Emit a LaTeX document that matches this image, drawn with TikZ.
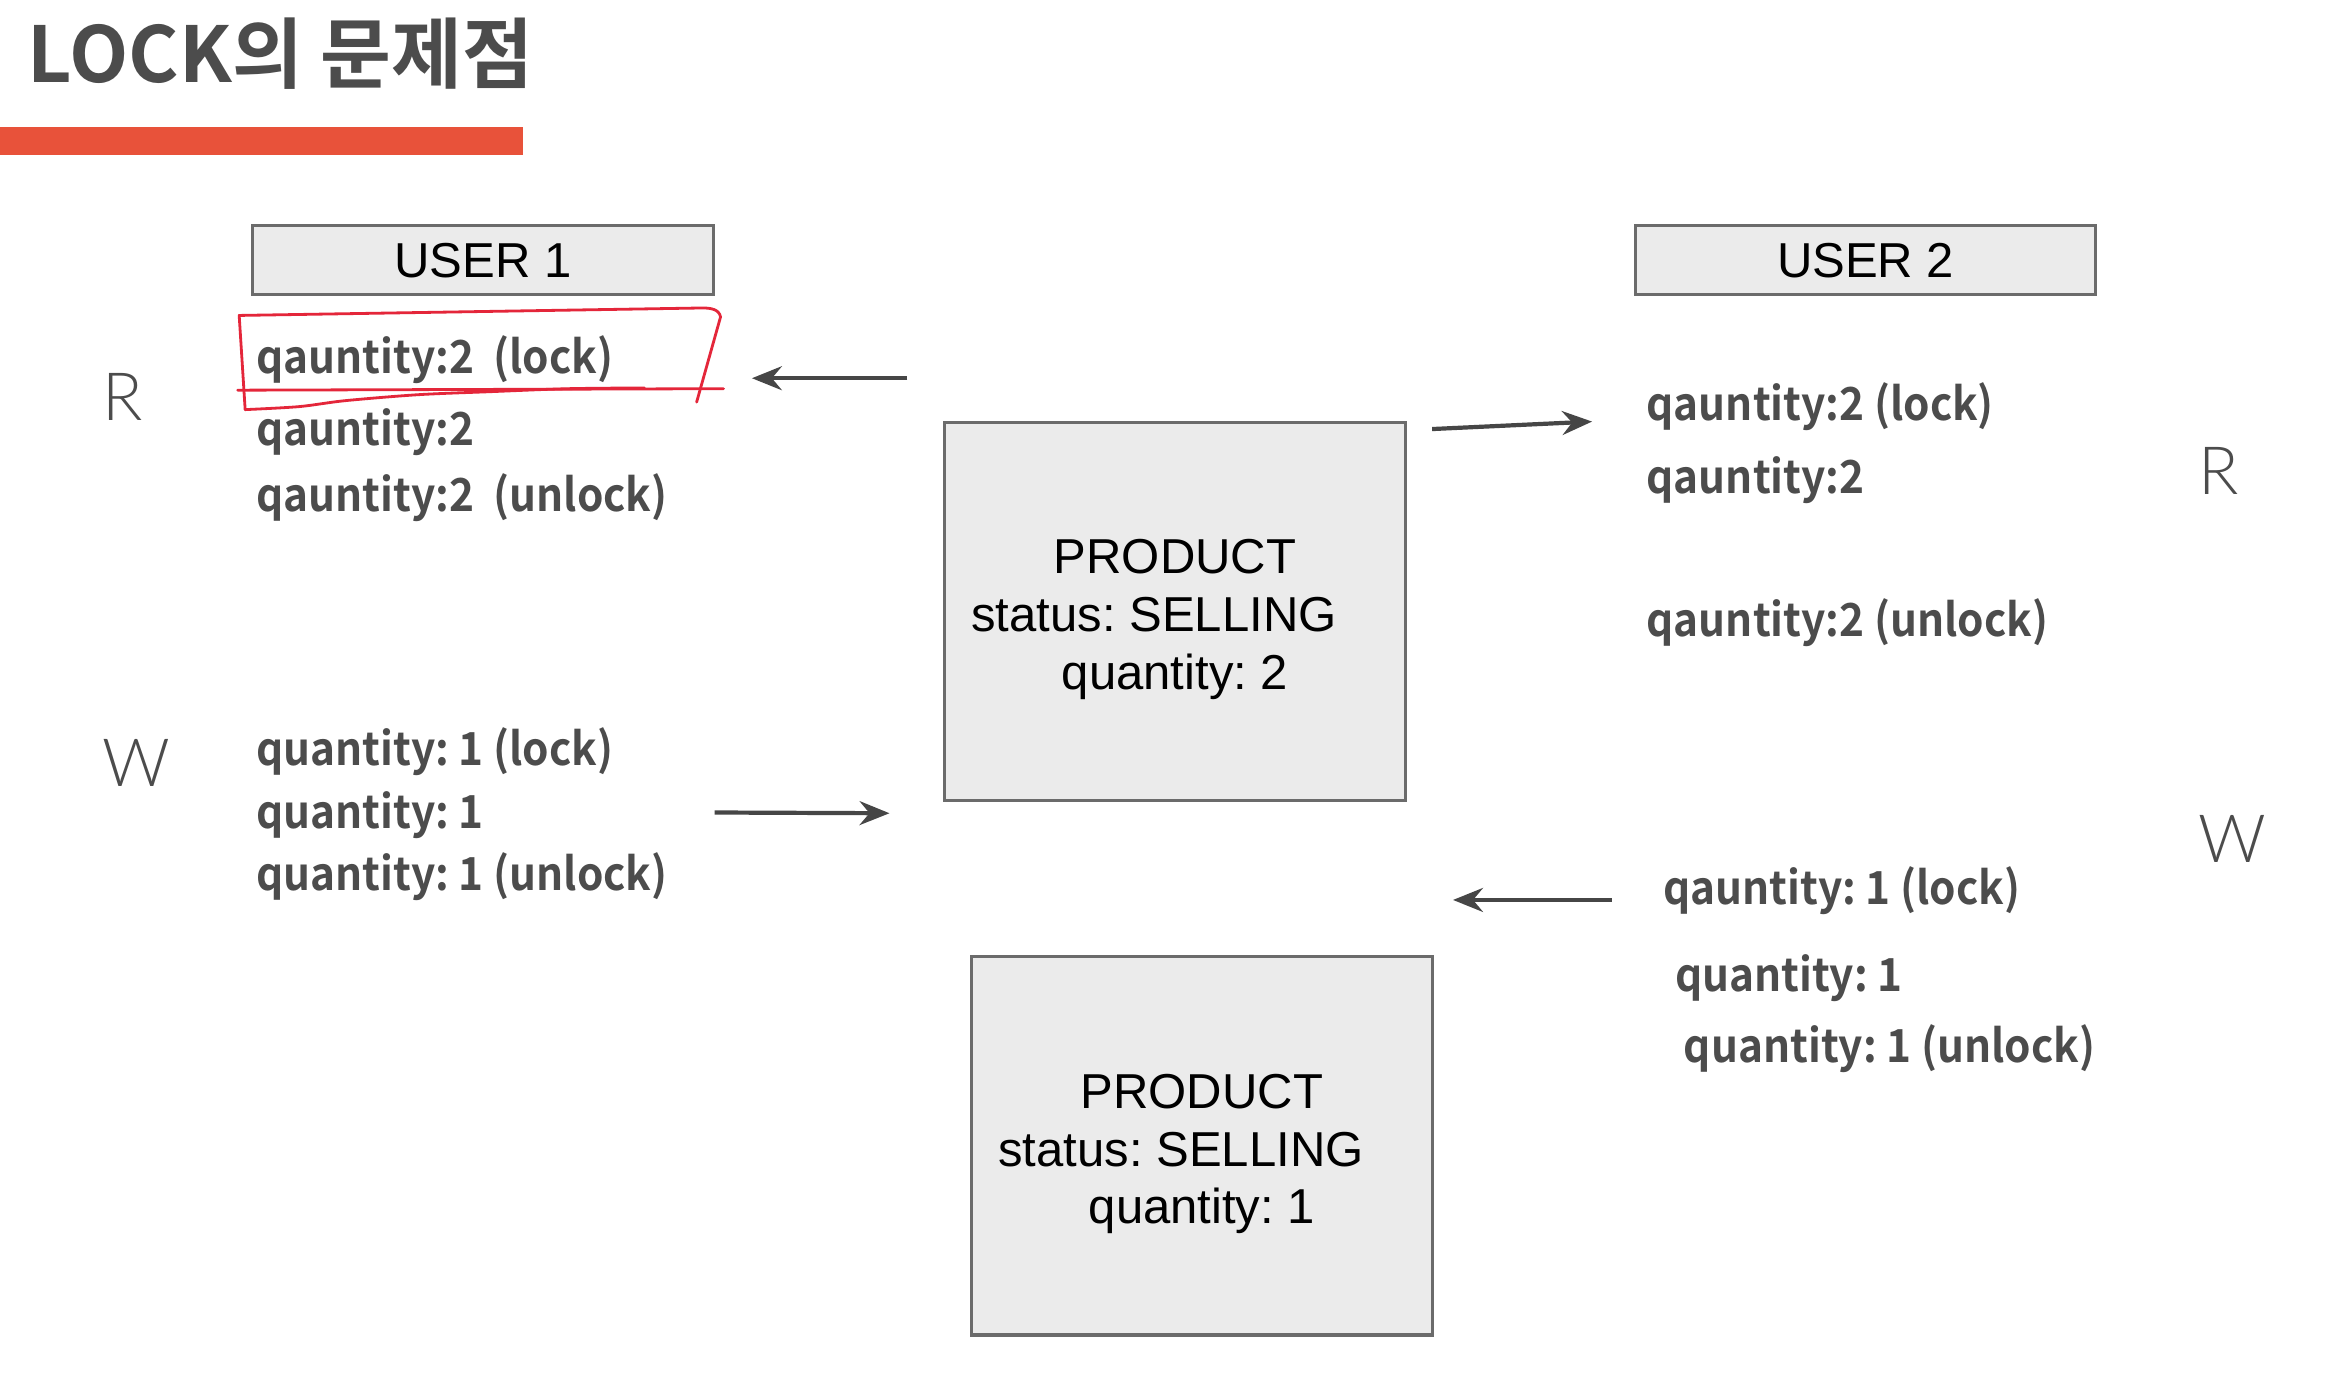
\documentclass[tikz,border=0pt]{standalone}
\usepackage{fontspec}
\setmainfont{Liberation Sans}
\newfontfamily\krfont{Noto Sans CJK KR}[BoldFont=Noto Sans CJK KR Bold]
\newfontfamily\qfont{Noto Sans CJK KR}[BoldFont=Noto Sans CJK KR Bold,FakeStretch=0.93]
\IfFontExistsTF{Lato Light}{\newfontfamily\thinfont{Lato Light}}{\newfontfamily\thinfont{Liberation Sans}}
\usetikzlibrary{arrows.meta,positioning}
\definecolor{txtgray}{HTML}{4C4C4C}
\definecolor{boxfill}{HTML}{EBEBEB}
\definecolor{boxline}{HTML}{6B6B6B}
\definecolor{barred}{HTML}{E8523A}
\definecolor{penred}{HTML}{E4263A}
\definecolor{arrgray}{HTML}{464646}
\tikzset{
  userblk/.style={draw=boxline,fill=boxfill,line width=0.9pt,minimum width=4.62cm,minimum height=0.69cm,inner sep=0pt,font=\fontsize{14}{16}\selectfont},
  prodblk/.style={userblk,minimum height=3.795cm,align=center,font=\fontsize{14}{16.5}\selectfont},
  qtxt/.style={anchor=base west,inner sep=0pt,text=txtgray,font=\qfont\bfseries\fontsize{13}{15}\selectfont},
  rwlbl/.style={anchor=base west,inner sep=0pt,text=txtgray,font=\thinfont\fontsize{19}{22}\selectfont},
  arr/.style={-{Stealth[length=3mm,width=2.4mm,inset=1mm]},line width=1.2pt,draw=arrgray},
  pen/.style={draw=penred,line width=0.8pt,line join=round,line cap=round}
}
\newcommand{\prodtext}[1]{\rule{0pt}{14.5pt}PRODUCT\\\mbox{status: SELLING\kern0.42cm}\\quantity: #1}
\frenchspacing
\begin{document}
\begin{tikzpicture}[x=0.015cm,y=-0.015cm]
  \useasboundingbox[fill=white] (0,0) rectangle (1568,928);

  \node[anchor=base west,inner sep=0pt,text=txtgray,font=\krfont\bfseries\fontsize{22}{26}\selectfont] (title) at (18,55) {LOCK의 문제점};
  \fill[barred] (0,85) rectangle (350,104);

  \node[userblk] (user1) at (323,174) {USER 1};
  \node[userblk] (user2) at (1248,174) {USER 2};

  \node[prodblk] (prod1) at (786,409) {\prodtext{2}};
  \node[prodblk] (prod2) at (804,766.5) {\prodtext{1}};

  \node[rwlbl] (r1) at (68,281) {R};
  \node[rwlbl] (w1) at (68,526) {W};
  \node[rwlbl] (r2) at (1470,331) {R};
  \node[rwlbl] (w2) at (1470,577) {W};

  \node[qtxt] (u1r1) at (171,250) {qauntity:2\ \ (lock)};
  \node[qtxt] (u1r2) at (171,298) {qauntity:2};
  \node[qtxt] (u1r3) at (171,342) {qauntity:2\ \ (unlock)};
  \node[qtxt] (u1w1) at (171,512) {quantity: 1 (lock)};
  \node[qtxt] (u1w2) at (171,554) {quantity: 1};
  \node[qtxt] (u1w3) at (171,596) {quantity: 1 (unlock)};

  \node[qtxt] (u2r1) at (1101,281) {qauntity:2 (lock)};
  \node[qtxt] (u2r2) at (1101,330) {qauntity:2};
  \node[qtxt] (u2r3) at (1101,426) {qauntity:2 (unlock)};
  \node[qtxt] (u2w1) at (1112,605) {qauntity: 1 (lock)};
  \node[qtxt] (u2w2) at (1120,663) {quantity: 1};
  \node[qtxt] (u2w3) at (1126,711) {quantity: 1 (unlock)};

  \coordinate (rd1from) at (607,253);
  \coordinate (rd1to) at (503,253);
  \coordinate (rd2from) at (958,287);
  \coordinate (rd2to) at (1065,282);
  \coordinate (wr1from) at (478,543.5);
  \coordinate (wr1to) at (595,544);
  \coordinate (wr2from) at (1078,602);
  \coordinate (wr2to) at (972,602);
  \draw[arr] (rd1from) -- (rd1to);
  \draw[arr] (rd2from) -- (rd2to);
  \draw[arr] (wr1from) -- (wr1to);
  \draw[arr] (wr2from) -- (wr2to);

  \draw[pen] (164,274) -- (160,211) -- (470,206) to[out=0,in=100] (482,212) -- (466,269);
  \draw[pen] plot[smooth] coordinates {(164,274) (200,272) (231,268) (280,264) (328,262) (380,260) (431,259.5)};
  \draw[pen] (159,261) -- (484,260);
\end{tikzpicture}
\end{document}
